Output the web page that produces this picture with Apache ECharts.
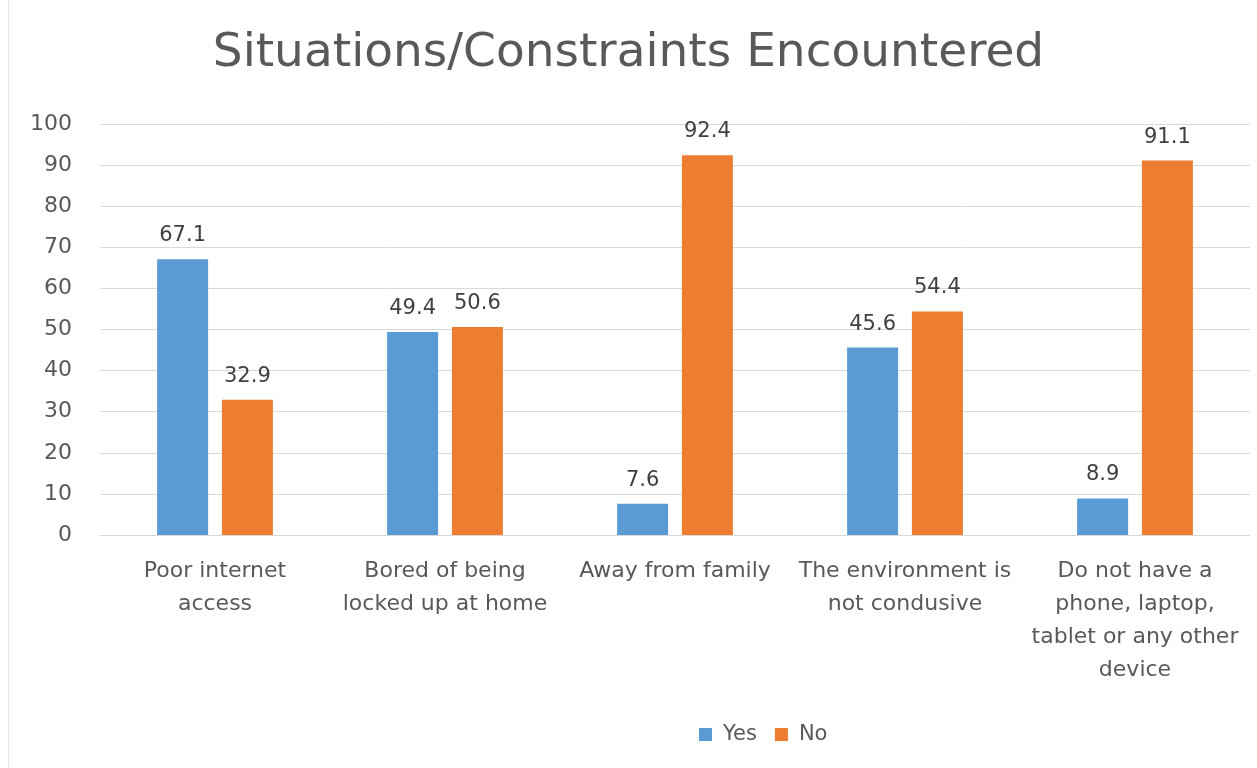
<!DOCTYPE html>
<html>
<head>
<meta charset="utf-8">
<script src="https://cdn.jsdelivr.net/npm/echarts@6/dist/echarts.min.js"></script>
<style>
  html, body { margin: 0; padding: 0; background: #fff; }
  #chart { width: 1257px; height: 768px; }
</style>
</head>
<body>
<div id="chart"></div>
<script>
// Survey categories and the share of respondents answering Yes / No
const categories = [
  'Poor internet\naccess',
  'Bored of being\nlocked up at home',
  'Away from family',
  'The environment is\nnot condusive',
  'Do not have a\nphone, laptop,\ntablet or any other\ndevice'
];
const yesValues = [67.1, 49.4, 7.6, 45.6, 8.9];
const noValues = [32.9, 50.6, 92.4, 54.4, 91.1];
const seriesNames = ['Yes', 'No'];

const textColor = '#595959';
const font = '"DejaVu Sans", "Noto Sans", sans-serif';

const chart = echarts.init(document.getElementById('chart'));

const labelStyle = {
  show: true,
  position: 'top',
  distance: 13,
  color: '#404040',
  fontSize: 21,
  fontFamily: font,
  formatter: p => p.value.toFixed(1)
};

chart.setOption({
  animation: false,
  title: {
    text: 'Situations/Constraints Encountered',
    left: 'center',
    top: 25,
    textStyle: { color: textColor, fontSize: 47, fontWeight: 'normal', fontFamily: font }
  },
  legend: {
    data: seriesNames,
    bottom: 18,
    left: 694,
    itemWidth: 13,
    itemHeight: 13,
    itemGap: 18,
    icon: 'rect',
    textStyle: { color: textColor, fontSize: 21, fontFamily: font, padding: [0, 0, 0, 6] }
  },
  grid: { left: 100, right: 7, top: 124, bottom: 233 },
  xAxis: {
    type: 'category',
    data: categories,
    axisLine: { show: true, lineStyle: { color: '#d9d9d9' } },
    axisTick: { show: false },
    axisLabel: {
      color: textColor,
      fontSize: 22,
      fontFamily: font,
      lineHeight: 33,
      margin: 20,
      interval: 0
    }
  },
  yAxis: {
    type: 'value',
    min: 0,
    max: 100,
    interval: 10,
    axisLine: { show: false },
    axisTick: { show: false },
    axisLabel: { color: textColor, fontSize: 22, fontFamily: font, margin: 28 },
    splitLine: { lineStyle: { color: '#d9d9d9' } }
  },
  series: [
    {
      name: seriesNames[0],
      type: 'bar',
      data: yesValues,
      barWidth: 51,
      barGap: '27%',
      itemStyle: { color: '#5B9BD5' },
      label: labelStyle
    },
    {
      name: seriesNames[1],
      type: 'bar',
      data: noValues,
      barWidth: 51,
      barGap: '27%',
      itemStyle: { color: '#ED7D31' },
      label: labelStyle
    }
  ],
  graphic: [
    {
      type: 'line',
      shape: { x1: 8.5, y1: 0, x2: 8.5, y2: 768 },
      style: { stroke: '#e6e6e6', lineWidth: 1 }
    }
  ]
});
</script>
</body>
</html>
